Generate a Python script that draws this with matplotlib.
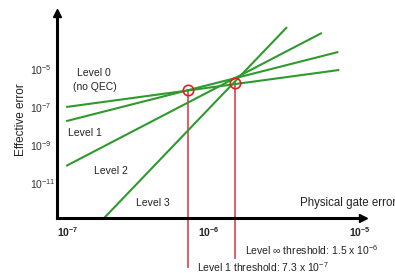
import matplotlib
matplotlib.use('Agg')
import matplotlib.pyplot as plt
import numpy as np

plt.rcParams['font.family'] = ['Liberation Sans', 'DejaVu Sans']
plt.rcParams['mathtext.default'] = 'regular'

# schematic lines (physical error -> effective error)
level_names = ['Level 0', 'Level 1', 'Level 2', 'Level 3']
x_start = [1.15e-7, 1.15e-7, 1.15e-7, 2.04e-7]
x_end = [7.3e-6, 7.2e-6, 5.6e-6, 3.3e-6]
y_start = [1.0e-7, 1.8e-8, 7.9e-11, 1.4e-13]
y_end = [8.9e-6, 7.9e-5, 7.9e-4, 1.6e-3]

# thresholds
thr_x = [7.3e-7, 1.5e-6]
thr_y = [8.0e-7, 1.9e-6]
thr_bottom = [3.8e-16, 1.1e-15]

xticks = [1e-7, 1e-6, 1e-5]
xtick_labels = ['$10^{-7}$', '$10^{-6}$', '$10^{-5}$']
yticks = [1e-5, 1e-7, 1e-9, 1e-11]
ytick_labels = ['$10^{-5}$', '$10^{-7}$', '$10^{-9}$', '$10^{-11}$']

fig = plt.figure(figsize=(3.95, 2.73), dpi=100)
ax = fig.add_axes([57/395, 1-218/273, (363-57)/395, (218-13)/273])
ax.set_xscale('log')
ax.set_yscale('log')
ax.set_xlim(10**-6.993, 10**-4.98)
ax.set_ylim(10**-12.842, 10**-2.053)

green = '#2e9a2e'
for i in range(len(level_names)):
    ax.plot([x_start[i], x_end[i]], [y_start[i], y_end[i]], color=green, lw=1.5,
            solid_capstyle='butt')

red_line = '#d9535a'
for i in range(len(thr_x)):
    ax.plot([thr_x[i], thr_x[i]], [thr_y[i], thr_bottom[i]], color=red_line, lw=1.3,
            clip_on=False, zorder=1)
ax.plot(thr_x, thr_y, 'o', ms=7.5, mfc='none', mec='#e02020', mew=1.2, zorder=5)

for s in ['top', 'right']:
    ax.spines[s].set_visible(False)
for s in ['left', 'bottom']:
    ax.spines[s].set_linewidth(2.2)
    ax.spines[s].set_zorder(6)
ax.plot(1, 0, '>k', ms=6, transform=ax.transAxes, clip_on=False)
ax.plot(0, 1, '^k', ms=6, transform=ax.transAxes, clip_on=False)

ax.minorticks_off()
ax.set_xticks(xticks)
ax.set_xticklabels(xtick_labels, fontsize=7.5, fontweight='bold', color='#222222')
ax.get_xticklabels()[0].set_horizontalalignment('left')
ax.set_yticks(yticks)
ax.set_yticklabels(ytick_labels, fontsize=7.5, color='#333333', ha='left')
ax.tick_params(axis='x', length=0, pad=5)
ax.tick_params(axis='y', length=0, pad=19.5)

tc = '#222222'
fig.text(0.2367, 0.7326, 'Level 0', fontsize=7.5, ha='center', va='center', color=tc)
fig.text(0.2405, 0.6813, '(no QEC)', fontsize=7.5, ha='center', va='center', color=tc)
fig.text(0.2139, 0.5128, 'Level 1', fontsize=7.5, ha='center', va='center', color=tc)
fig.text(0.281, 0.3736, 'Level 2', fontsize=7.5, ha='center', va='center', color=tc)
fig.text(0.386, 0.2564, 'Level 3', fontsize=7.5, ha='center', va='center', color=tc)
fig.text(0.7595, 0.2564, 'Physical gate error', fontsize=8.3, ha='left', va='center', color=tc)
fig.text(0.0519, 0.5604, 'Effective error', fontsize=8.5, ha='center', va='center',
         rotation=90, color=tc)
fig.text(0.6203, 0.0842, 'Level \u221e threshold: 1.5 x $10^{-6}$', fontsize=7.5,
         ha='left', va='center', color=tc)
fig.text(0.4987, 0.022, 'Level 1 threshold: 7.3 x $10^{-7}$', fontsize=7.5,
         ha='left', va='center', color=tc)

fig.savefig('out.png', dpi=100)
